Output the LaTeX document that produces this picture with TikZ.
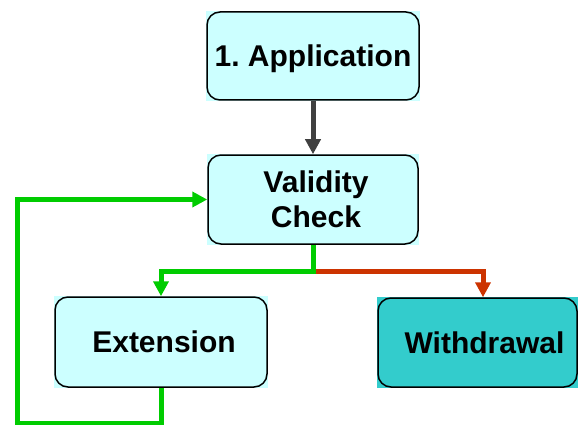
\documentclass[tikz,border=0pt]{standalone}
\usepackage{fontspec}
\setmainfont{Liberation Sans}
\usetikzlibrary{arrows.meta,backgrounds}
\definecolor{boxfill}{HTML}{CCFFFF}
\definecolor{boxteal}{HTML}{33CCCC}
\definecolor{flowgreen}{HTML}{00CC00}
\definecolor{flowred}{HTML}{CC3300}
\definecolor{flowgray}{HTML}{404040}
\frenchspacing
\tikzset{
  stage/.style={draw=black, line width=1.5pt, rounded corners=13pt,
    minimum width=212pt, minimum height=88pt, inner sep=0pt, align=center,
    font=\fontsize{30}{34}\selectfont\bfseries},
  flow/.style={line width=5pt, -{Triangle[length=15pt,width=15pt]}},
}
\begin{document}
\begin{tikzpicture}[x=1pt,y=-1pt]
\useasboundingbox (0,0) rectangle (578,425);

% process stages
\node[stage, text depth=0pt] (app) at (313,56) {1. Application};
\node[stage, minimum width=210pt, minimum height=89pt] (val) at (313,199.5)
  {\hspace*{6pt}Validity\\[1pt]\hspace*{6pt}Check};
\node[stage, minimum height=90pt] (ext) at (161,342) {\hspace*{6pt}Extension};
\node[stage, minimum width=199pt, minimum height=89pt] (wd) at (477.5,342.5)
  {\hspace*{14pt}Withdrawal};

% square fills behind the rounded outlines
\begin{scope}[on background layer]
  \fill[boxfill] (app.north west) rectangle (app.south east);
  \fill[boxfill] (val.north west) rectangle (val.south east);
  \fill[boxfill] (ext.north west) rectangle (ext.south east);
  \fill[boxteal] (wd.north west) rectangle (wd.south east);
\end{scope}

% connectors
\coordinate (split) at (313,271);
\coordinate (loopcorner) at (17,423);
\draw[flow, flowgray] (app.south) -- (val.north);
\draw[flow, flowred] (split) -| ([xshift=5.5pt]wd.north);
\draw[flow, flowgreen] (val.south) -- (split) -| (ext.north);
\draw[flow, flowgreen] (ext.south) |- (loopcorner) |- (val.west);
\end{tikzpicture}
\end{document}
